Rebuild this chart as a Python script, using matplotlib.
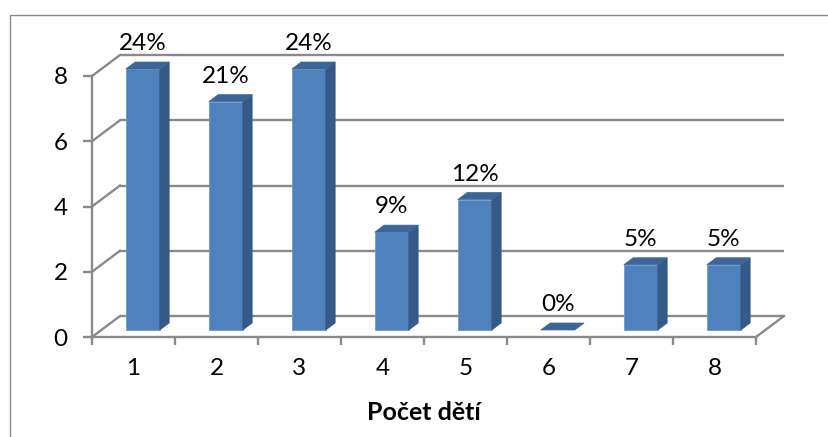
import matplotlib.pyplot as plt
from matplotlib.patches import Polygon, Rectangle

plt.rcParams['font.family'] = ['Lato', 'DejaVu Sans']

# data
kategorie = [1, 2, 3, 4, 5, 6, 7, 8]
pocty = [8, 7, 8, 3, 4, 0, 2, 2]
procenta = ['24%', '21%', '24%', '9%', '12%', '0%', '5%', '5%']
y_ticky = [0, 2, 4, 6, 8]

sediva = '#8a8a8a'
predni = '#4f81bd'
bok = '#365a88'
vrch = '#3d6598'

W, H = 829, 437
fig = plt.figure(figsize=(W / 100, H / 100), dpi=100)
ax = fig.add_axes([92 / W, 100 / H, 664 / W, 261 / H])
ax.set_xlim(0.5, 8.5)
ax.set_ylim(0, 8)

# hloubka 3D efektu v datovych jednotkach
dx = 28 / 83
dy = 21 / 32.625

# zadni stena - mrizka + diagonaly vlevo
for y in y_ticky:
    ax.plot([0.5 + dx, 8.5 + dx], [y + dy, y + dy], color=sediva, lw=1.7,
            clip_on=False, zorder=1, solid_capstyle='butt')
    ax.plot([0.5, 0.5 + dx], [y, y + dy], color=sediva, lw=1.7,
            clip_on=False, zorder=1)
# podlaha vpravo
ax.plot([8.5, 8.5 + dx], [0, dy], color=sediva, lw=1.7, clip_on=False, zorder=1)

# sloupce
w = 34 / 83
for c, v in zip(kategorie, pocty):
    x0 = c - w / 2 + dx / 3
    x1 = c + w / 2 + dx / 3
    y0 = dy / 3
    y1 = v + dy / 3
    ox, oy = dx / 3, dy / 3
    if v > 0:
        ax.add_patch(Polygon([(x0, y0), (x1, y0), (x1, y1), (x0, y1)],
                             closed=True, fc=predni, ec='#6f9ad0', lw=0.6,
                             clip_on=False, zorder=3))
        ax.add_patch(Polygon([(x1, y0), (x1 + ox, y0 + oy), (x1 + ox, y1 + oy), (x1, y1)],
                             closed=True, fc=bok, ec=bok, lw=0.5,
                             clip_on=False, zorder=3))
    ax.add_patch(Polygon([(x0, y1), (x1, y1), (x1 + ox, y1 + oy), (x0 + ox, y1 + oy)],
                         closed=True, fc=vrch, ec=vrch, lw=0.5,
                         clip_on=False, zorder=3))

for c, v, t in zip(kategorie, pocty, procenta):
    ax.annotate(t, (c + dx / 3, v), xytext=(0, 18.7), textcoords='offset points',
                ha='center', va='baseline', fontsize=17.5, color='black',
                annotation_clip=False)

# osy
for s in ['top', 'right']:
    ax.spines[s].set_visible(False)
for s in ['left', 'bottom']:
    ax.spines[s].set_color(sediva)
    ax.spines[s].set_linewidth(1.7)
    ax.spines[s].set_zorder(2)

ax.set_yticks(y_ticky)
ax.tick_params(axis='y', length=6.5, width=1.7, color=sediva, pad=11, labelsize=17.5)
ax.set_xticks([k + 0.5 for k in range(0, 9)])
ax.set_xticklabels([])
ax.set_xticks(kategorie, minor=True)
ax.set_xticklabels([str(k) for k in kategorie], minor=True)
ax.tick_params(axis='x', which='major', length=6, width=1.7, color=sediva, direction='out')
ax.tick_params(axis='x', which='minor', length=0, pad=15, labelsize=17.5)
ax.set_facecolor('none')

fig.text(424 / W, 1 - 412 / H, 'Počet dětí', ha='center', va='center',
         fontsize=18, fontweight='bold')

# ramecek grafu
fig.add_artist(Rectangle((10 / W, -0.1), 1.2, (H - 15) / H + 0.1,
                         transform=fig.transFigure, fill=False, ec='#8a8a8a', lw=1))

fig.savefig('out.png', dpi=100)
